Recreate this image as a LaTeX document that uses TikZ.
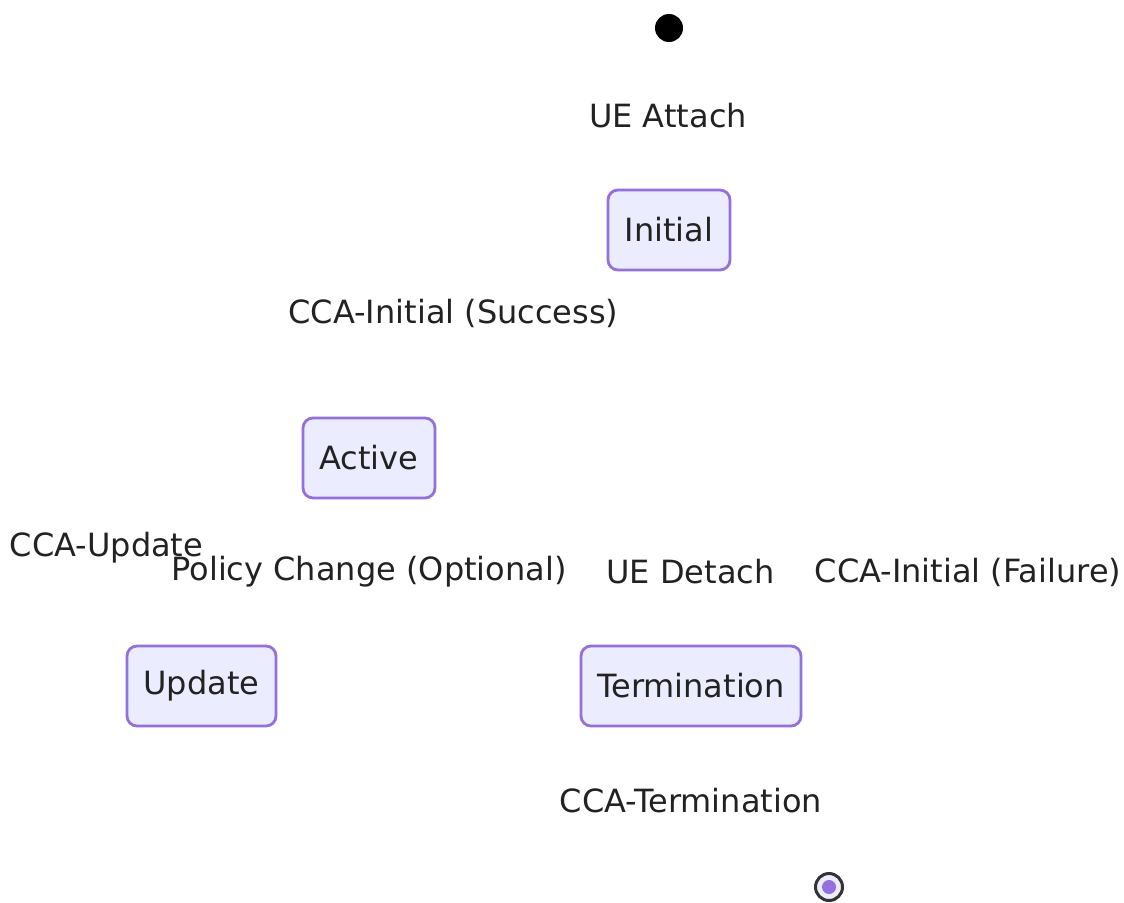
\documentclass[tikz,border=0pt]{standalone}
\usepackage{fontspec}
\setmainfont{DejaVu Sans}
\definecolor{txt}{HTML}{222222}
\definecolor{ring}{HTML}{333333}
\definecolor{stroke}{HTML}{9370DB}
\definecolor{fillc}{HTML}{ECECFF}
\begin{document}
\begin{tikzpicture}[x=1pt,y=-1pt,
  font=\fontsize{32}{38}\selectfont,
  statebox/.style={draw=stroke,fill=fillc,line width=2.8pt,rounded corners=10pt,
    minimum height=80pt,inner sep=0pt,text=txt},
  lbl/.style={text=txt,inner sep=0pt}]
\path[use as bounding box,fill=white] (0,0) rectangle (1124,902);
\node[circle,fill=black,minimum size=28pt,inner sep=0pt] (start) at (669,28) {};
\node[lbl] (l1) at (668,116) {UE Attach};
\node[statebox,minimum width=122pt] (initial) at (669,230) {Initial};
\node[lbl] (l2) at (453.5,313) {CCA-Initial (Success)};
\node[statebox,minimum width=132pt] (active) at (369,458) {Active};
\node[lbl] (l3) at (106.5,548) {CCA-Update};
\node[lbl] (l4) at (369,572) {Policy Change (Optional)};
\node[lbl] (l5) at (690.5,572) {UE Detach};
\node[lbl] (l6) at (968,572) {CCA-Initial (Failure)};
\node[statebox,minimum width=149pt] (update) at (201.5,686) {Update};
\node[statebox,minimum width=220pt] (term) at (691,686) {Termination};
\node[lbl] (l7) at (691,801) {CCA-Termination};
\node[circle,draw=ring,fill=fillc,line width=3pt,minimum size=27pt,inner sep=0pt] (end) at (829,887) {};
\node[circle,fill=stroke,minimum size=14pt,inner sep=0pt] (enddot) at (end.center) {};
\end{tikzpicture}
\end{document}
